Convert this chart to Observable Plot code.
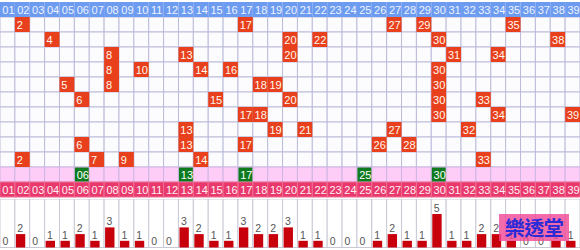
<!DOCTYPE html>
<html><head><meta charset="utf-8">
<script src="https://cdn.jsdelivr.net/npm/d3@7"></script>
<script src="https://cdn.jsdelivr.net/npm/@observablehq/plot@0.6"></script>
<style>
body{margin:0;background:#fff;}
#wrap{position:relative;width:580px;height:250px;overflow:hidden;}
#wrap svg{display:block;}
#mark{position:absolute;left:499px;top:214px;width:70px;height:27px;background:rgba(240,70,150,0.8);color:#2a2ad6;font:bold 20px "Noto Sans CJK TC";line-height:27px;text-align:center;letter-spacing:-0.5px;}
</style></head><body>
<div id="wrap"></div>
<script>
const nums = ["01","02","03","04","05","06","07","08","09","10","11","12","13","14","15","16","17","18","19","20","21","22","23","24","25","26","27","28","29","30","31","32","33","34","35","36","37","38","39"];
const draws = [
  [2,17,27,29,35],
  [4,20,22,30,38],
  [8,13,20,31,34],
  [8,10,14,16,30],
  [5,8,18,19,30],
  [6,15,20,30,33],
  [17,18,30,34,39],
  [13,19,21,27,32],
  [6,13,17,26,28],
  [2,7,9,14,33]
];
const latest = [6,13,17,25,30];
const counts = [0,2,0,1,1,2,1,3,1,1,0,0,3,2,1,1,3,2,2,3,1,1,0,0,0,1,2,1,1,5,1,1,2,2,1,0,0,1,1];
const watermark = "樂透堂";

const rows = d3.range(0, 13);
const grid = rows.slice(1, 11).flatMap(r => nums.map(c => ({col: c, row: r})));
const hits = draws.flatMap((d, i) => d.map(n => ({col: nums[n - 1], row: i + 1, label: String(n)})));
const greens = latest.map(n => ({col: nums[n - 1], row: 11, label: nums[n - 1]}));
const bars = nums.map((c, i) => ({col: c, c: counts[i]}));

const font = "'Liberation Sans', Arial, sans-serif";
const xs = {type: "band", domain: nums, padding: 0, axis: null};
const dxl = -(580 / 39) / 2 + 1.8;

const gridPlot = Plot.plot({
  width: 580, height: 199, margin: 0,
  style: {fontFamily: font, fontSize: "11px", background: "transparent"},
  x: xs,
  y: {type: "band", domain: rows, padding: 0, axis: null},
  marks: [
    Plot.cell(grid, {x: "col", y: "row", fill: "#fcfcff", stroke: "#bcbcda"}),
    Plot.cell(nums, {x: d => d, y: () => 0, fill: "#6c9bf0"}),
    Plot.cell(nums, {x: d => d, y: () => 11, fill: "#fdcdf7", stroke: "#cdb6e2"}),
    Plot.cell(nums, {x: d => d, y: () => 12, fill: "#e8386c", stroke: "#ef6e96"}),
    Plot.cell(hits, {x: "col", y: "row", fill: "#e8401c"}),
    Plot.cell(greens, {x: "col", y: "row", fill: "#0d7a1e", inset: 0.5}),
    Plot.text(nums, {x: d => d, y: () => 0, text: d => d, fill: "#eef3ff", textAnchor: "start", dx: dxl}),
    Plot.text(nums, {x: d => d, y: () => 12, text: d => d, fill: "#fff0f5", textAnchor: "start", dx: dxl}),
    Plot.text(hits, {x: "col", y: "row", text: "label", fill: "#fff8ee", textAnchor: "start", dx: dxl - 0.5}),
    Plot.text(greens, {x: "col", y: "row", text: "label", fill: "#ffffff", textAnchor: "start", dx: dxl})
  ]
});

const barPlot = Plot.plot({
  width: 580, height: 51, marginTop: 0, marginBottom: 2.5, marginLeft: 0, marginRight: 0,
  style: {fontFamily: font, fontSize: "10.5px", background: "transparent"},
  x: xs,
  y: {domain: [0, 48.5 / 6.7], axis: null},
  marks: [
    Plot.cell(nums, {x: d => d, fill: "#ffffff", stroke: "#c9c9d6"}),
    Plot.barY(bars, {x: "col", y: "c", fill: "#c8000c", insetLeft: 1, insetRight: 4.5}),
    Plot.text(bars, {x: "col", y: "c", text: d => String(d.c), fill: "#555555", textAnchor: "start", dx: dxl + 0.2, dy: -6})
  ]
});

const wrap = document.getElementById("wrap");
wrap.appendChild(gridPlot);
wrap.appendChild(barPlot);
const m = document.createElement("div");
m.id = "mark";
m.textContent = watermark;
wrap.appendChild(m);
</script>
</body></html>
